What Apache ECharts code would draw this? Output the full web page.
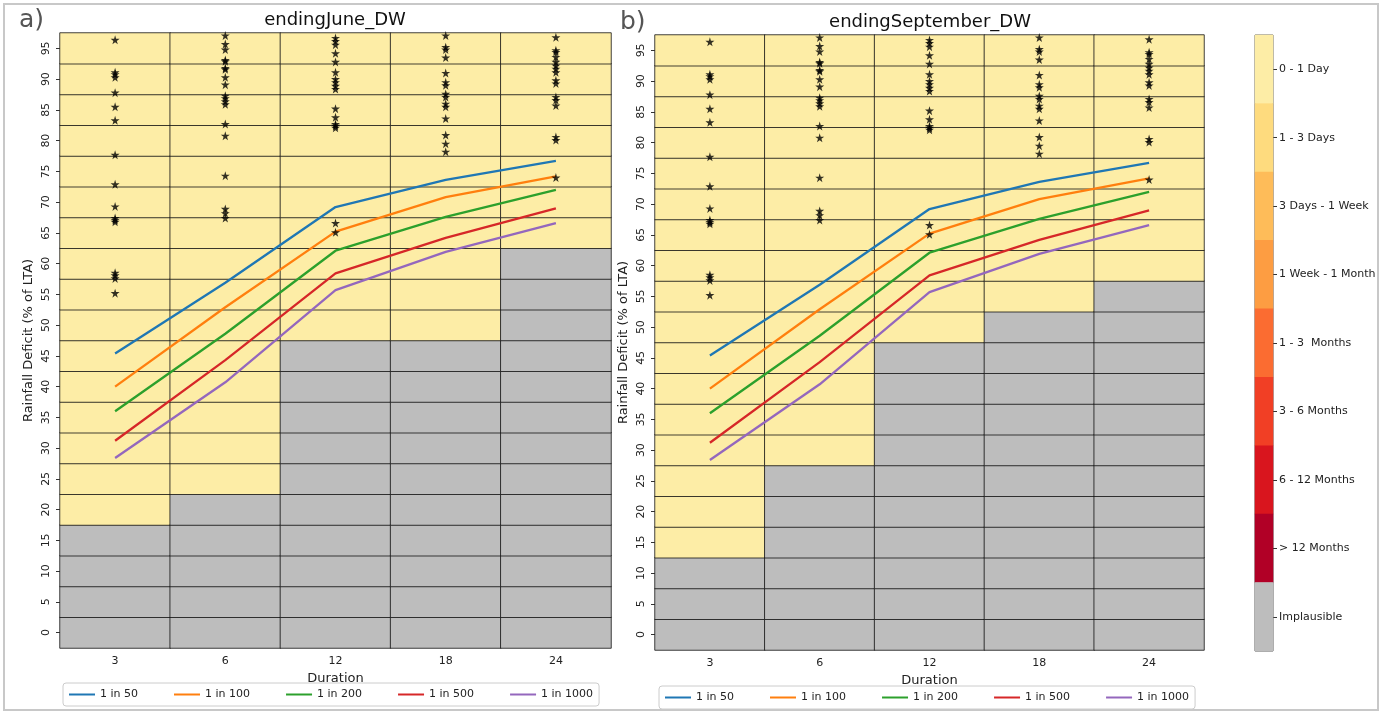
<!DOCTYPE html>
<html>
<head>
<meta charset="utf-8">
<title>Rainfall deficit</title>
<script src="https://cdn.jsdelivr.net/npm/echarts@6/dist/echarts.min.js"></script>
<style>
  html, body { margin: 0; padding: 0; background: #fff; }
  #main { width: 1388px; height: 714px; }
</style>
</head>
<body>
<div id="main"></div>
<script>
// categories
var durations = ['3', '6', '12', '18', '24'];
var yTicks = ['0', '5', '10', '15', '20', '25', '30', '35', '40', '45', '50', '55', '60', '65', '70', '75', '80', '85', '90', '95'];

// lowest deficit (%) that is still plausible, per duration
var plausibleFromJune = [20, 25, 50, 50, 65];
var plausibleFromSept = [15, 30, 50, 55, 60];

// return period curves (same for both panels)
var rp50 = [45.4, 56.9, 69.2, 73.6, 76.7];
var rp100 = [40.0, 52.9, 65.2, 70.8, 74.2];
var rp200 = [36.0, 48.6, 62.1, 67.6, 72.0];
var rp500 = [31.2, 44.3, 58.4, 64.2, 69.0];
var rp1000 = [28.4, 40.7, 55.7, 61.9, 66.6];
var rpNames = ['1 in 50', '1 in 100', '1 in 200', '1 in 500', '1 in 1000'];

// observed deficits (stars), one list per duration
var obs3 = [96.4, 91.1, 90.8, 90.3, 87.8, 85.5, 83.3, 77.7, 72.9, 69.3, 67.4, 67.1, 66.8, 58.5, 58.1, 57.6, 55.2];
var obs6 = [97.1, 95.7, 94.8, 93.1, 92.9, 91.8, 91.6, 90.3, 89.1, 87.3, 86.9, 86.4, 85.9, 82.7, 80.8, 74.3, 68.9, 68.2, 67.4];
var obs12 = [96.7, 96.2, 95.6, 94.2, 92.8, 91.1, 90.0, 89.5, 88.9, 88.4, 85.2, 83.8, 82.7, 82.4, 82.1, 66.6, 65.1];
var obs18 = [97.1, 95.2, 94.8, 93.5, 91.0, 89.5, 89.0, 87.6, 87.1, 86.0, 85.5, 83.6, 80.9, 79.5, 78.2];
var obs24 = [96.8, 94.7, 94.4, 93.6, 92.8, 92.2, 91.7, 91.1, 89.8, 89.3, 87.1, 86.6, 85.7, 80.6, 80.1, 74.0];

// colour bar classes
var classLabels = ['0 - 1 Day', '1 - 3 Days', '3 Days - 1 Week', '1 Week - 1 Month', '1 - 3  Months', '3 - 6 Months', '6 - 12 Months', '> 12 Months', 'Implausible'];
var classColors = ['#fdeda6', '#fedb7e', '#febc59', '#fd9d42', '#fb6c31', '#f13f25', '#d9151e', '#b10026', '#bdbdbd'];

var lineColors = ['#1f77b4', '#ff7f0e', '#2ca02c', '#d62728', '#9467bd'];
var FONT = 'DejaVu Sans';
var STAR = 'path://M50,0 L61,35 L98,35 L68,57 L79,91 L50,70 L21,91 L32,57 L2,35 L39,35 Z';

var chart = echarts.init(document.getElementById('main'), null, { renderer: 'canvas' });

//构建热力图格子
function buildCells(limits) {
	var cells = [];
	for (var i = 0; i < durations.length; i++) {
		for (var j = 0; j < yTicks.length; j++) {
			var ok = Number(yTicks[j]) >= limits[i];
			cells.push({
				value: [i, j, ok ? 0 : 8],
				itemStyle: { color: ok ? classColors[0] : classColors[8] }
			});
		}
	}
	return cells;
}

function buildStars() {
	var lists = [obs3, obs6, obs12, obs18, obs24];
	var pts = [];
	for (var i = 0; i < lists.length; i++) {
		for (var k = 0; k < lists[i].length; k++) {
			pts.push([i, lists[i][k]]);
		}
	}
	return pts;
}

var grids = [
	{ left: 60, top: 33, width: 551, height: 615 },
	{ left: 655, top: 35, width: 549, height: 615 },
	{ left: 1255, top: 35, width: 18, height: 616, show: true, borderColor: '#555', borderWidth: 1 }
];

function xAxisFor(gi) {
	return {
		type: 'category', gridIndex: gi, data: durations,
		name: 'Duration', nameLocation: 'middle', nameGap: 23,
		nameTextStyle: { fontFamily: FONT, fontSize: 13, color: '#222' },
		axisLine: { show: false },
		axisTick: { show: true, alignWithLabel: true, length: 4, lineStyle: { color: '#333' } },
		axisLabel: { fontFamily: FONT, fontSize: 11, color: '#222', margin: 8 },
		splitLine: { show: false }
	};
}
function yCatFor(gi) {
	return {
		type: 'category', gridIndex: gi, data: yTicks,
		name: 'Rainfall Deficit (% of LTA)', nameLocation: 'middle', nameGap: 25,
		nameTextStyle: { fontFamily: FONT, fontSize: 13, color: '#222' },
		axisLine: { show: false },
		axisTick: { show: true, alignWithLabel: true, length: 4, lineStyle: { color: '#333' } },
		axisLabel: { fontFamily: FONT, fontSize: 11, color: '#222', rotate: 90, margin: 8 },
		splitLine: { show: false }
	};
}
function yValFor(gi) {
	return { type: 'value', gridIndex: gi, min: -2.5, max: 97.5, show: false, splitLine: { show: false } };
}

var series = [];
var panels = [plausibleFromJune, plausibleFromSept];
var curves = [rp50, rp100, rp200, rp500, rp1000];
for (var p = 0; p < 2; p++) {
	series.push({
		type: 'heatmap', xAxisIndex: p, yAxisIndex: p * 2,
		data: buildCells(panels[p]),
		itemStyle: { borderColor: 'rgba(20,20,20,0.8)', borderWidth: 1 },
		emphasis: { disabled: true }, silent: true, z: 1
	});
	for (var c = 0; c < curves.length; c++) {
		series.push({
			type: 'line', name: rpNames[c], xAxisIndex: p, yAxisIndex: p * 2 + 1,
			data: curves[c], showSymbol: false, symbol: 'none', animation: false,
			lineStyle: { color: lineColors[c], width: 2.3 }, itemStyle: { color: lineColors[c] }, z: 3
		});
	}
	series.push({
		type: 'scatter', xAxisIndex: p, yAxisIndex: p * 2 + 1,
		data: buildStars(), symbol: STAR, symbolSize: 9,
		itemStyle: { color: '#000' }, z: 4, silent: true
	});
}

// colour bar
var barCells = [];
for (var k = 0; k < classLabels.length; k++) {
	barCells.push({ value: [0, k, k], itemStyle: { color: classColors[k] } });
}
series.push({
	type: 'heatmap', xAxisIndex: 2, yAxisIndex: 4, data: barCells,
	emphasis: { disabled: true }, silent: true
});

function legendFor(left, top) {
	return {
		left: left, top: top, data: rpNames, icon: 'rect',
		itemWidth: 26, itemHeight: 2, itemGap: 36,
		padding: [6, 6], borderColor: '#ccc', borderWidth: 1, borderRadius: 3,
		textStyle: { fontFamily: FONT, fontSize: 11, color: '#222' }
	};
}

var option = {
	animation: false,
	backgroundColor: '#fff',
	grid: grids,
	xAxis: [xAxisFor(0), xAxisFor(1), { type: 'category', gridIndex: 2, data: ['c'], show: false }],
	yAxis: [
		yCatFor(0), yValFor(0), yCatFor(1), yValFor(1),
		{
			type: 'category', gridIndex: 2, data: classLabels, inverse: true, position: 'right',
			axisLine: { show: false },
			axisTick: { show: true, alignWithLabel: true, length: 4, lineStyle: { color: '#333' } },
			axisLabel: { fontFamily: FONT, fontSize: 11, color: '#222', margin: 6 }
		}
	],
	legend: [legendFor(63, 683), legendFor(659, 686)],
	series: series,
	graphic: [
		{ type: 'rect', shape: { x: 4, y: 4, width: 1374, height: 706 }, style: { fill: null, stroke: '#c8c8c8', lineWidth: 2 }, silent: true },
		{ type: 'text', x: 19, y: 20, style: { text: 'a)', font: '25px "DejaVu Sans"', fill: '#555', textVerticalAlign: 'middle' } },
		{ type: 'text', x: 620, y: 22, style: { text: 'b)', font: '25px "DejaVu Sans"', fill: '#555', textVerticalAlign: 'middle' } },
		{ type: 'text', x: 335, y: 20, style: { text: 'endingJune_DW', font: '18px "DejaVu Sans"', fill: '#111', textAlign: 'center', textVerticalAlign: 'middle' } },
		{ type: 'text', x: 930, y: 22, style: { text: 'endingSeptember_DW', font: '18px "DejaVu Sans"', fill: '#111', textAlign: 'center', textVerticalAlign: 'middle' } }
	]
};

chart.setOption(option);
</script>
</body>
</html>
